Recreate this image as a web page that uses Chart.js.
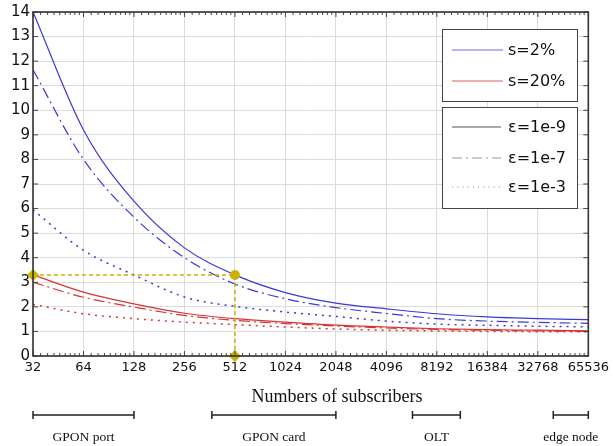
<!DOCTYPE html>
<html><head><meta charset="utf-8">
<script src="https://cdn.jsdelivr.net/npm/chart.js@4"></script>
<style>html,body{margin:0;padding:0;background:#fff}#wrap{width:613px;height:446px}</style>
</head><body><div id="wrap"><canvas id="c" width="613" height="446"></canvas></div>
<script>
const subscribers = [32, 64, 128, 256, 512, 1024, 2048, 4096, 8192, 16384, 32768, 65536];
const s2_e9 = [14.0, 9.2, 6.3, 4.4, 3.3, 2.58, 2.15, 1.92, 1.72, 1.59, 1.52, 1.48];
const s2_e7 = [11.65, 8.0, 5.65, 4.0, 2.93, 2.33, 1.97, 1.73, 1.52, 1.42, 1.37, 1.33];
const s2_e3 = [5.95, 4.3, 3.3, 2.4, 2.02, 1.79, 1.61, 1.42, 1.3, 1.25, 1.21, 1.19];
const s20_e9 = [3.3, 2.6, 2.12, 1.74, 1.52, 1.38, 1.26, 1.18, 1.11, 1.07, 1.05, 1.02];
const s20_e7 = [3.0, 2.39, 1.99, 1.65, 1.45, 1.32, 1.22, 1.14, 1.08, 1.05, 1.02, 1.0];
const s20_e3 = [2.1, 1.72, 1.52, 1.38, 1.28, 1.18, 1.1, 1.05, 1.02, 1.0, 0.99, 0.98];
const markX = [32, 512, 512];
const markY = [3.3, 3.3, 0];
const yTicks = [0,1,2,3,4,5,6,7,8,9,10,11,12,13,14];
const bracketLabels = ['GPON port', 'GPON card', 'OLT', 'edge node'];
const bracketStart = [32, 373, 5860, 40500];
const bracketEnd = [128, 2048, 11300, 65536];
const legendGroup1 = ['s=2%', 's=20%'];
const legendGroup2 = ['ε=1e-9', 'ε=1e-7', 'ε=1e-3'];

const BLUE = '#3a3ad8', RED = '#d83434', YEL = '#c9b300';
const DASHDOT = [11, 4, 2, 4], DOT = [2, 5];
const pts = arr => subscribers.map((x, i) => ({x, y: arr[i]}));
function line(data, color, dash, w) {
  return {data: pts(data), borderColor: color, borderWidth: w || 1.2, borderDash: dash, pointRadius: 0,
    cubicInterpolationMode: 'monotone', fill: false, order: 2};
}

const framePlugin = {
  id: 'frame',
  afterDraw(chart) {
    const ctx = chart.ctx, a = chart.chartArea, xs = chart.scales.x, ys = chart.scales.y;
    ctx.save();
    ctx.strokeStyle = '#444'; ctx.lineWidth = 1;
    ctx.beginPath();
    for (let i = 0; i < subscribers.length; i++) {
      const base = subscribers[i];
      const px = xs.getPixelForValue(base);
      ctx.moveTo(px, a.bottom); ctx.lineTo(px, a.bottom - 5);
      ctx.moveTo(px, a.top); ctx.lineTo(px, a.top + 5);
      if (i < subscribers.length - 1) {
        for (let k = 1; k <= 8; k++) {
          const m = xs.getPixelForValue(base * (1 + k / 9));
          ctx.moveTo(m, a.bottom); ctx.lineTo(m, a.bottom - 3);
          ctx.moveTo(m, a.top); ctx.lineTo(m, a.top + 3);
        }
      }
    }
    yTicks.forEach(v => {
      const py = ys.getPixelForValue(v);
      ctx.moveTo(a.left, py); ctx.lineTo(a.left + 5, py);
      ctx.moveTo(a.right, py); ctx.lineTo(a.right - 5, py);
    });
    ctx.stroke();
    ctx.lineWidth = 1.6; ctx.strokeStyle = '#333';
    ctx.strokeRect(a.left, a.top, a.right - a.left, a.bottom - a.top);

    ctx.lineWidth = 1; ctx.strokeStyle = '#444'; ctx.fillStyle = '#fff';
    ctx.fillRect(442, 29, 136, 72); ctx.strokeRect(442.5, 29.5, 135, 72);
    ctx.fillRect(442, 107, 136, 101); ctx.strokeRect(442.5, 107.5, 135, 101);
    ctx.font = '16px "DejaVu Sans", Verdana, sans-serif';
    ctx.textBaseline = 'middle'; ctx.textAlign = 'left';
    const g1y = [50, 81], g1c = ['#6a6ae0', '#e06060'];
    legendGroup1.forEach((t, i) => {
      ctx.beginPath(); ctx.setLineDash([]); ctx.strokeStyle = g1c[i]; ctx.lineWidth = 1.2;
      ctx.moveTo(452, g1y[i]); ctx.lineTo(503, g1y[i]); ctx.stroke();
      ctx.fillStyle = '#111'; ctx.fillText(t, 508, g1y[i] + 1);
    });
    const g2y = [127, 158, 187], g2d = [[], [10, 4, 2, 4], [1.2, 4]], g2c = ['#555', '#999', '#999'];
    legendGroup2.forEach((t, i) => {
      ctx.beginPath(); ctx.setLineDash(g2d[i]); ctx.strokeStyle = g2c[i]; ctx.lineWidth = 1;
      ctx.moveTo(452, g2y[i]); ctx.lineTo(501, g2y[i]); ctx.stroke();
      ctx.setLineDash([]);
      ctx.fillStyle = '#111'; ctx.fillText(t, 508, g2y[i] + 1);
    });

    ctx.fillStyle = '#111'; ctx.textAlign = 'center'; ctx.textBaseline = 'alphabetic';
    ctx.font = '18px "Liberation Serif", "Times New Roman", serif';
    ctx.fillText('Numbers of subscribers', 337, 402);
    ctx.strokeStyle = '#222'; ctx.lineWidth = 1.5;
    ctx.font = '13.5px "Liberation Serif", "Times New Roman", serif';
    bracketLabels.forEach((t, i) => {
      const x1 = xs.getPixelForValue(bracketStart[i]), x2 = xs.getPixelForValue(bracketEnd[i]);
      const y = 415;
      ctx.beginPath();
      ctx.moveTo(x1, y); ctx.lineTo(x2, y);
      ctx.moveTo(x1, y - 4); ctx.lineTo(x1, y + 4);
      ctx.moveTo(x2, y - 4); ctx.lineTo(x2, y + 4);
      ctx.stroke();
      ctx.fillText(t, (x1 + x2) / 2, 441);
    });
    ctx.restore();
  }
};

new Chart(document.getElementById('c'), {
  type: 'line',
  data: {
    datasets: [
      {data: markX.map((x, i) => ({x, y: markY[i]})), borderColor: YEL, backgroundColor: YEL, borderWidth: 1.5,
        borderDash: [4, 3], pointStyle: ['rectRot', 'circle', 'rectRot'], pointRadius: [6, 5, 6],
        pointBorderWidth: 0, tension: 0, fill: false, order: 1, clip: false},
      line(s2_e9, BLUE, []),
      line(s2_e7, BLUE, DASHDOT),
      line(s2_e3, BLUE, DOT, 1.5),
      line(s20_e9, RED, []),
      line(s20_e7, RED, DASHDOT),
      line(s20_e3, RED, DOT, 1.5)
    ]
  },
  options: {
    responsive: false, animation: false, devicePixelRatio: 1,
    layout: {padding: {top: 9, right: 24, left: 0, bottom: 0}},
    plugins: {legend: {display: false}, tooltip: {enabled: false}},
    scales: {
      x: {
        type: 'logarithmic', min: 32, max: 65536,
        afterBuildTicks: s => { s.ticks = subscribers.map(v => ({value: v, major: false})); },
        afterFit: s => { s.height = 90; },
        grid: {color: '#dcdcdc', lineWidth: 1, drawTicks: false},
        border: {display: false},
        ticks: {callback: v => String(v), color: '#111', padding: 4, maxRotation: 0, autoSkip: false,
          font: {family: '"DejaVu Sans", sans-serif', size: 13}}
      },
      y: {
        min: 0, max: 14,
        afterBuildTicks: s => { s.ticks = yTicks.map(v => ({value: v})); },
        afterFit: s => { s.width = 33; },
        grid: {color: '#dcdcdc', lineWidth: 1, drawTicks: false},
        border: {display: false},
        ticks: {color: '#111', padding: 3, font: {family: '"DejaVu Sans", sans-serif', size: 15}}
      }
    }
  },
  plugins: [framePlugin]
});
</script>
</body></html>
